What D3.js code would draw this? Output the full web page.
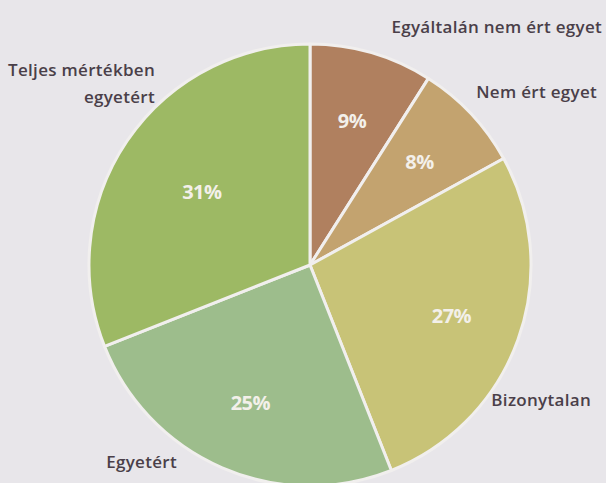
<!DOCTYPE html>
<html>
<head>
<meta charset="utf-8">
<script src="https://cdn.jsdelivr.net/npm/d3@7"></script>
<style>
  body { margin: 0; background: #e8e6ea; }
  svg { display: block; }
  text { font-family: "Open Sans", "Noto Sans", sans-serif; }
</style>
</head>
<body>
<svg id="chart" width="606" height="483"></svg>
<script>
// categories, clockwise from the top
var categories = ["Egyáltalán nem ért egyet", "Nem ért egyet", "Bizonytalan", "Egyetért", "Teljes mértékben egyetért"]
var values = [9, 8, 27, 25, 31]
var colors = ["#b0805f", "#c3a36f", "#c8c377", "#9dbd8c", "#9db964"]

var width = 606, height = 483
var cx = 310, cy = 265, radius = 221

var svg = d3.select("#chart")

var pie = d3.pie().sort(null).value(function(d) { return d.value })
var arcs = pie(values.map(function(v, i) { return { name: categories[i], value: v, color: colors[i] } }))

var arc = d3.arc().innerRadius(0).outerRadius(radius)
var labelArc = d3.arc().innerRadius(radius * 0.68).outerRadius(radius * 0.68)

var g = svg.append("g").attr("transform", "translate(" + cx + "," + cy + ")")

g.selectAll("path")
  .data(arcs)
  .join("path")
  .attr("d", arc)
  .attr("fill", function(d) { return d.data.color })
  .attr("stroke", "#f1efee")
  .attr("stroke-width", 3)
  .attr("stroke-linejoin", "round")

g.selectAll("text.pct")
  .data(arcs)
  .join("text")
  .attr("class", "pct")
  .attr("transform", function(d) {
    var c = labelArc.centroid(d)
    // the big slice sits a bit closer in
    if (d.data.value == 31) c = [c[0] * 0.87, c[1] * 0.87]
    return "translate(" + c + ")"
  })
  .attr("text-anchor", "middle")
  .attr("dy", "0.36em")
  .attr("fill", "#f3f0ea")
  .attr("font-size", 20)
  .attr("font-weight", 700)
  .attr("letter-spacing", -0.5)
  .text(function(d) { return d.data.value + "%" })

// outside category labels, anchored by hand around the pie
var outside = [
  { lines: ["Egyáltalán nem ért egyet"], x: 602, y: 27 },
  { lines: ["Nem ért egyet"], x: 597, y: 92 },
  { lines: ["Bizonytalan"], x: 591, y: 400 },
  { lines: ["Egyetért"], x: 177, y: 462 },
  { lines: ["Teljes mértékben", "egyetért"], x: 155, y: 70 }
]

outside.forEach(function(o) {
  var t = svg.append("text")
    .attr("x", o.x)
    .attr("y", o.y)
    .attr("text-anchor", "end")
    .attr("fill", "#4a3f49")
    .attr("font-size", 17)
    .attr("font-weight", 600)
    .attr("letter-spacing", 0.3)
  o.lines.forEach(function(l, i) {
    t.append("tspan")
      .attr("x", o.x)
      .attr("dy", i == 0 ? "0.36em" : "1.6em")
      .text(l)
  })
})
</script>
</body>
</html>
